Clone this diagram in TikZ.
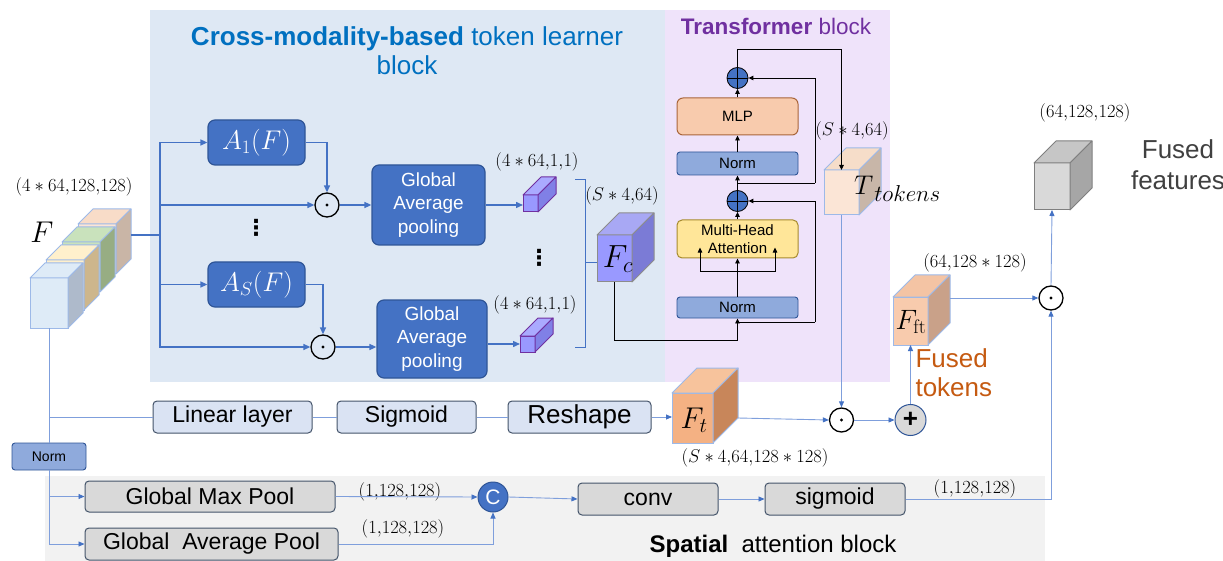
\documentclass[tikz,border=0pt]{standalone}
\usepackage{fix-cm}
\usepackage{fontspec}
\newfontfamily\arial{Liberation Sans}
\newfontfamily\dejavu{DejaVu Sans}
\usetikzlibrary{arrows.meta,calc}
\definecolor{bgblue}{HTML}{DEE8F4}
\definecolor{bgpurple}{HTML}{EFE3FA}
\definecolor{bggray}{HTML}{F2F2F2}
\definecolor{cblue}{HTML}{4472C4}
\definecolor{cdarkblue}{HTML}{2F5597}
\definecolor{cnorm}{HTML}{8FAADC}
\definecolor{cmha}{HTML}{FFE699}
\definecolor{cmhaB}{HTML}{A68A2E}
\definecolor{cmlp}{HTML}{F8CBAD}
\definecolor{cmlpB}{HTML}{A9653A}
\definecolor{clightbox}{HTML}{DAE3F3}
\definecolor{cboxB}{HTML}{44546A}
\definecolor{cgraybox}{HTML}{D9D9D9}
\definecolor{clight}{HTML}{7F9FDC}
\definecolor{ctitle}{HTML}{0070C0}
\definecolor{cpurple}{HTML}{7030A0}
\definecolor{corange}{HTML}{C55A11}
\definecolor{cgraytext}{HTML}{404040}
\definecolor{cedge}{HTML}{9DB9E8}
\definecolor{cgrayedge}{HTML}{8C8C8C}
\definecolor{cgrayedgeB}{HTML}{7F7F7F}
\newcommand\fs[2]{\fontsize{#1}{#2}\selectfont}
% name, NW position, width, height, depth, front, side, top (HTML), border (named)
\newcommand\cubeat[9]{%
  \definecolor{cf#1}{HTML}{#6}\definecolor{cs#1}{HTML}{#7}\definecolor{ct#1}{HTML}{#8}%
  \node[draw=#9, fill=cf#1, line width=1pt, minimum width=#3pt, minimum height=#4pt,
        anchor=north west, inner sep=0pt, outer sep=0pt] (#1) at #2 {};
  \filldraw[draw=#9, fill=ct#1, line width=1pt, line join=round]
    (#1.north west) -- ++(#5,-#5) -- ++(#3,0) -- (#1.north east) -- cycle;
  \filldraw[draw=#9, fill=cs#1, line width=1pt, line join=round]
    (#1.north east) -- ++(#5,-#5) -- ++(0,#4) -- (#1.south east) -- cycle;
}
\begin{document}
\begin{tikzpicture}[x=1pt,y=-1pt,
  darkbox/.style={rounded corners=7pt, fill=cblue, draw=cdarkblue, line width=1.2pt, text=white, align=center, inner sep=1pt},
  normbox/.style={rounded corners=3pt, fill=cnorm, draw=cdarkblue, line width=0.9pt, font=\arial\fs{15}{17}, inner sep=1pt},
  lightbox/.style={rounded corners=4pt, fill=clightbox, draw=cboxB, line width=1pt, inner sep=1pt},
  graybox/.style={rounded corners=4pt, fill=cgraybox, draw=cboxB, line width=1pt, inner sep=1pt},
  odot/.style={circle, draw=black, line width=1.3pt, minimum size=24pt, inner sep=0pt,
    path picture={\fill (path picture bounding box.center) circle (1.7pt);}},
  oplusb/.style={circle, draw=black, fill=cblue, line width=0.8pt, minimum size=21pt, inner sep=0pt,
    path picture={\draw[black, line width=0.8pt] (path picture bounding box.north) -- (path picture bounding box.south) (path picture bounding box.west) -- (path picture bounding box.east);}},
  dim/.style={font=\fs{18.5}{20}},
  vdot/.style={font=\dejavu\bfseries\fs{22}{24}},
  tl/.style={draw=cblue, line width=1.4pt},
  tla/.style={tl, -{Triangle[length=7pt,width=6pt]}},
  lb/.style={draw=clight, line width=0.9pt},
  lba/.style={lb, -{Triangle[length=6pt,width=5pt,color=cblue]}},
  blk/.style={draw=black, line width=0.9pt},
  blka/.style={blk, -{Triangle[length=5pt,width=4.5pt]}}
]
\useasboundingbox (0,0) rectangle (1223,561);
% backgrounds
\fill[bgblue] (150,10) rectangle (665,382);
\fill[bgpurple] (665,10) rectangle (890,382);
\fill[bggray] (45,476) rectangle (1045,561);

% titles
\node[font=\arial\fs{26}{29}, text=ctitle, align=center] (t1) at (407,51) {\textbf{Cross-modality-based} token learner\\block};
\node[font=\arial\fs{22.5}{26}, text=cpurple] (t2) at (776,26) {\textbf{Transformer} block};

% input feature stack
\cubeat{F4}{(78,224)}{38}{50}{15}{FBE5D6}{C9B5A6}{F8DCC8}{cedge}
\cubeat{F3}{(62,242)}{38}{50}{15}{C9E2BC}{97AD83}{C9E2BC}{cedge}
\cubeat{F2}{(46,260)}{38}{50}{15}{FFF0CC}{CDB68C}{FFF0CC}{cedge}
\cubeat{F}{(30,278)}{38}{50}{15}{DEEBF7}{AEBACB}{DEEBF7}{cedge}
\node[font=\fs{30}{32}] (Flab) at (42,232) {$F$};
\node[dim] (dimF) at (74,187) {$(4\ast64{,}128{,}128)$};

% token learner
\coordinate (br) at (160,235);
\node[darkbox, minimum width=97pt, minimum height=45pt, font=\fs{27}{29}] (A1) at (256.5,142.5) {$A_1(F)$};
\node[darkbox, minimum width=97pt, minimum height=45pt, font=\fs{27}{29}] (AS) at (256.5,284.5) {$A_S(F)$};
\node[vdot] (vd1) at (256,228) {⋮};
\node[odot] (od1) at (327,205) {};
\node[odot] (od2) at (323,347) {};
\node[darkbox, minimum width=113pt, minimum height=80pt, font=\arial\fs{19}{23.5}] (GAP1) at (428.5,205) {Global\\Average\\pooling};
\node[darkbox, minimum width=110pt, minimum height=78pt, font=\arial\fs{19}{23.5}] (GAP2) at (432,339) {Global\\Average\\pooling};
\cubeat{c1}{(523,195)}{15}{17}{18}{9999FF}{8080E6}{AAAAFF}{cpurple}
\cubeat{c2}{(520,336)}{15}{16}{18}{9999FF}{8080E6}{AAAAFF}{cpurple}
\node[dim] (dc1) at (537,162) {$(4\ast64{,}1{,}1)$};
\node[dim] (dc2) at (535,305) {$(4\ast64{,}1{,}1)$};
\node[vdot] (vd2) at (539,258) {⋮};
\coordinate (bt) at (575,180);
\coordinate (bb) at (575,347);
\coordinate (bm) at (585,263);
\cubeat{Fc}{(597,235)}{35}{47}{22}{9999FF}{7B7BD6}{A8A8F4}{cgrayedge}
\node[font=\fs{32}{34}] (Fclab) at (618,259) {$F_c$};
\node[dim] (dFc) at (622,196) {$(S\ast4{,}64)$};

\draw[tl] (F4.north east) ++(15,11) -- (br);
\draw[tla] (br) |- (A1.west);
\draw[tla] (br) |- (od1.west);
\draw[tla] (br) |- (AS.west);
\draw[tla] (br) |- (od2.west);
\draw[tla] (A1.east) -| (od1.north);
\draw[tla] (AS.east) -| (od2.north);
\draw[tla] (od1.east) -- (GAP1.west |- od1.east);
\draw[tla] (od2.east) -- (GAP2.west |- od2.east);
\draw[tla] (GAP1.east |- od1.east) -- (c1.west |- od1.east);
\draw[tla] (GAP2.east |- c2.west) -- (c2.west);
\draw[tl, line width=1pt] (bt) -- (bt -| bm) -- (bb -| bm) -- (bb);
\draw[tl, line width=1pt] (bm) -- (Fc.west |- bm);

% transformer
\node[normbox, minimum width=121pt, minimum height=21pt] (N1) at (737.5,307.5) {Norm};
\node[rounded corners=5pt, fill=cmha, draw=cmhaB, line width=1pt, minimum width=121pt, minimum height=38pt, font=\arial\fs{15}{18}, align=center, inner sep=1pt] (MHA) at (737.5,239) {Multi-Head\\Attention};
\node[oplusb] (p1) at (737.5,201) {};
\node[normbox, minimum width=121pt, minimum height=23pt] (N2) at (737.5,163.5) {Norm};
\node[rounded corners=6pt, fill=cmlp, draw=cmlpB, line width=1pt, minimum width=121pt, minimum height=37pt, font=\arial\fs{15}{18}, inner sep=1pt] (MLP) at (737.5,116.5) {MLP};
\node[oplusb] (p2) at (737.5,78) {};
\cubeat{Tt}{(824,170)}{35}{45}{22}{FBE5D6}{C8B6A8}{F6DDC9}{cedge}
\node[font=\fs{27}{30}, anchor=west, inner sep=0pt] (Ttlab) at (854,189) {$T$\kern1pt\raisebox{-7pt}{\fs{23}{25}$tokens$}};
\node[dim] (dTt) at (852,131) {$(S\ast4{,}64)$};
\coordinate (j1) at (737.5,340);
\coordinate (r1) at (737.5,322);
\coordinate (r2) at (737.5,183);
\draw[blk] (Fc.south) |- (j1);
\draw[blka] (j1) -- (N1.south);
\draw[blk] (r1) -- (815,322) coordinate (r1b);
\draw[blka] (r1b) |- (p1.east);
\draw[blk] (N1.north) -- ++(0,-25) coordinate (s);
\draw[blka] (s) -- (MHA.south);
\draw[blka] (s) -- ++(-37.5,0) -- ++(0,-24);
\draw[blka] (s) -- ++(37.5,0) -- ++(0,-24);
\draw[blka] (MHA.north) -- (p1.south);
\draw[blka] (p1.north) -- (N2.south);
\draw[blk] (r2) -- (815,183) coordinate (r2b);
\draw[blka] (r2b) |- (p2.east);
\draw[blka] (N2.north) -- (MLP.south);
\draw[blka] (MLP.north) -- (p2.south);
\draw[blka] (p2.north) -- ++(0,-18) -| (Tt.north);

% middle row
\node[lightbox, minimum width=159pt, minimum height=32pt, font=\arial\fs{23}{26}] (Lin) at (232.5,417) {Linear layer};
\node[lightbox, minimum width=139pt, minimum height=32pt, font=\arial\fs{23}{26}] (Sig) at (406.5,417) {Sigmoid};
\node[lightbox, minimum width=143pt, minimum height=32pt, font=\arial\fs{26}{28}] (Resh) at (579.5,417) {Reshape};
\cubeat{Ft}{(672,393)}{41}{50}{25}{F4B183}{C8865A}{F7C39C}{cedge}
\node[font=\fs{30}{32}] (Ftlab) at (694,420) {$F_t$};
\node[dim] (dFt) at (755,458) {$(S\ast4{,}64{,}128\ast128)$};
\node[odot] (od3) at (841.5,420) {};
\node[circle, fill=cgraybox, draw=cdarkblue, line width=1pt, minimum size=31pt, inner sep=0pt, font=\arial\bfseries\fs{26}{26}] (p3) at (910.5,420) {+};
\cubeat{Fft}{(893,297)}{35}{48}{22}{F8CBAD}{C9A189}{F4C4A4}{cedge}
\node[font=\fs{28}{30}] (Fftlab) at (911,322) {$F_{\mathrm{ft}}$};
\node[dim] (dFft) at (975,263) {$(64{,}128\ast128)$};
\node[font=\arial\fs{26}{29}, text=corange, align=left, anchor=west] (ftok) at (912,373) {Fused\\tokens};
\node[odot] (od4) at (1051,298) {};
\cubeat{G}{(1034,163)}{36}{47}{22}{D9D9D9}{A6A6A6}{C6C6C6}{cgrayedgeB}
\node[dim] (dG) at (1085,113) {$(64{,}128{,}128)$};
\node[font=\arial\fs{26}{31}, text=cgraytext, align=center] (ffeat) at (1178,165) {Fused\\features};

\draw[lb] (F.south) -- (F.south |- Lin.west) -- (Lin.west);
\draw[lb] (Lin.east) -- (Sig.west);
\draw[lb] (Sig.east) -- (Resh.west);
\draw[lba] (Resh.east) -- (Ft.west |- Resh.east);
\draw[lba] (Ft.east) ++(25,0) -- (od3.west);
\draw[lba] (od3.east) -- (p3.west);
\draw[lba] (Tt.south) -- (od3.north);
\draw[lba] (p3.north) -- (Fft.south);
\draw[lba] (Fft.north east) ++(22,1) -- (od4.west);
\draw[lba] (od4.north) -- (G.south);

% spatial attention
\node[normbox, minimum width=74pt, minimum height=27pt, font=\arial\fs{14}{16}] (NB) at (49,456.5) {Norm};
\node[graybox, minimum width=250pt, minimum height=31pt, font=\arial\fs{23}{26}] (GMP) at (210,496.5) {Global Max Pool};
\node[graybox, minimum width=253pt, minimum height=32pt, font=\arial\fs{23}{26}] (GAvP) at (211.5,544) {Global\ \ Average Pool};
\node[dim] (dGMP) at (400,492) {$(1{,}128{,}128)$};
\node[dim] (dGAvP) at (403,529) {$(1{,}128{,}128)$};
\node[circle, fill=cblue, draw=cdarkblue, line width=1pt, minimum size=30pt, inner sep=0pt, text=white, font=\arial\fs{21}{22}] (C) at (493,497) {C};
\node[graybox, minimum width=140pt, minimum height=32pt, font=\arial\fs{23}{26}] (conv) at (648,499) {conv};
\node[graybox, minimum width=140pt, minimum height=32pt, font=\arial\fs{23}{26}] (sig2) at (835,499) {sigmoid};
\node[dim] (dsig) at (975,489) {$(1{,}128{,}128)$};
\node[font=\arial\fs{24}{28}] (sab) at (773,546) {\textbf{Spatial}\ \ attention block};

\draw[lb] (F.south |- Lin.west) -- (NB.north);
\draw[lba] (NB.south) |- (GMP.west);
\draw[lba] (NB.south) |- (GAvP.west);
\draw[lba] (GMP.east) -- (C.west);
\draw[lba] (GAvP.east) -| (C.south);
\draw[lba] (C.east) -- (conv.west);
\draw[lba] (conv.east) -- (sig2.west);
\draw[lba] (sig2.east) -| (od4.south);
\end{tikzpicture}
\end{document}
